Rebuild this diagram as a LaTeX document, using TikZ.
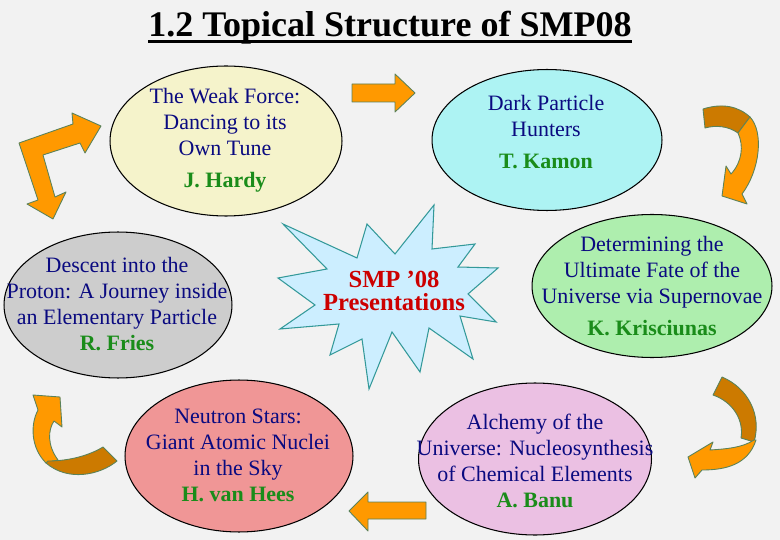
\documentclass[tikz,border=0pt]{standalone}
\usepackage{fontspec}
\setmainfont{Liberation Serif}
\usetikzlibrary{shapes.geometric,positioning}
\definecolor{Canvas}{HTML}{F2F2F2}
\definecolor{Navy}{HTML}{0A0A80}
\definecolor{Leaf}{HTML}{1A8C1A}
\definecolor{Flame}{HTML}{CC0000}
\definecolor{Amber}{HTML}{FF9900}
\definecolor{Rust}{HTML}{CC7A00}
\definecolor{Rim}{HTML}{5A825A}
\definecolor{Butter}{HTML}{F5F3CB}
\definecolor{Aqua}{HTML}{ADF3F3}
\definecolor{Mint}{HTML}{AEEEAE}
\definecolor{Lilac}{HTML}{EBC0E3}
\definecolor{Salmon}{HTML}{F09696}
\definecolor{Ash}{HTML}{CDCDCD}
\definecolor{Frost}{HTML}{CCEEFF}
\definecolor{Teal}{HTML}{339999}
\newcommand{\speaker}[1]{{\bfseries\color{Leaf}#1}}

\begin{document}
\begin{tikzpicture}[x=0.02cm,y=-0.02cm,talk/.style={ellipse,draw=black,line width=0.6pt,inner sep=0pt},blurb/.style={align=center,inner sep=0pt,text=Navy,font=\fontsize{12.5}{14.8}\selectfont},block/.style={fill=Amber,draw=Rim,line width=0.5pt,line join=round},shadeblock/.style={fill=Rust,draw=Rim,line width=0.5pt,line join=round}]
\fill[Canvas] (0,0) rectangle (780,540);
\useasboundingbox (0,0) rectangle (780,540);
\node[anchor=base,inner sep=0pt,font=\fontsize{20.5}{24}\selectfont\bfseries] (title) at (390,37){1.2 Topical Structure of SMP08};
\draw[line width=1.3pt] ([yshift=-2.6pt]title.base west) -- ([yshift=-2.6pt]title.base east);
% the six talks
\node[talk,fill=Butter,minimum width=4.64cm,minimum height=3.0cm] (weak) at (226,141){};
\node[talk,fill=Aqua,minimum width=4.6cm,minimum height=2.82cm] (hunters) at (547,140){};
\node[talk,fill=Mint,minimum width=4.8cm,minimum height=2.86cm] (fate) at (652,286){};
\node[talk,fill=Lilac,minimum width=4.66cm,minimum height=3.04cm] (alchemy) at (535,459){};
\node[talk,fill=Salmon,minimum width=4.56cm,minimum height=3.04cm] (neutron) at (239,456){};
\node[talk,fill=Ash,minimum width=4.56cm,minimum height=2.92cm] (descent) at (118,305){};
\node[blurb] (weaktxt) at (225,140){The Weak Force:\\Dancing to its\\Own Tune\\[3.4pt]\speaker{J. Hardy}};
\node[blurb] (hunterstxt) at (546,132){Dark Particle\\Hunters\\[3.4pt]\speaker{T. Kamon}};
\node[blurb] (fatetxt) at (652,286){Determining the\\Ultimate Fate of the\\Universe via Supernovae\\[3.4pt]\speaker{K. Krisciunas}};
\node[blurb] (alchemytxt) at (535,461){Alchemy of the\\Universe: Nucleosynthesis\\of Chemical Elements\\\speaker{A. Banu}};
\node[blurb] (neutrontxt) at (238,455){Neutron Stars:\\Giant Atomic Nuclei\\in the Sky\\\speaker{H. van Hees}};
\node[blurb] (descenttxt) at (117,304){Descent into the\\Proton: A Journey inside\\an Elementary Particle\\\speaker{R. Fries}};
% centre burst
\filldraw[fill=Frost,draw=Teal,line width=0.6pt] (434,205) -- (432,249) -- (475,244) -- (458,267) -- (498,268) -- (468,294) -- (496,322) -- (460,316) -- (473,359) -- (429,328) -- (420,372) -- (392,332) -- (369,389) -- (362,339) -- (330,355) -- (339,324) -- (280,329) -- (315,305) -- (278,278) -- (327,269) -- (283,224) -- (357,258) -- (367,224) -- (395,254) -- cycle;
\node[align=center,inner sep=0pt,text=Flame,font=\fontsize{14}{12.8}\selectfont\bfseries] (smp) at (394,291){SMP ’08\\Presentations};
% block arrows
\draw[block] (352,84) -- (395,84) -- (395,74) -- (415,93) -- (395,112) -- (395,102) -- (352,102) -- cycle;
\draw[block] (426,502) -- (368,502) -- (368,492) -- (349,511) -- (368,531) -- (368,519) -- (426,519) -- cycle;
\draw[block] (19,143) -- (73,124) -- (72,113) -- (101,126) -- (85,153) -- (80,143) -- (43,155) -- (55,197) -- (66,192) -- (53,219) -- (27,204) -- (38,200) -- cycle;
% curved arrows
\draw[shadeblock] (703,109) .. controls (722,103) and (738,106) .. (750,117) -- (738,133) .. controls (728,126) and (716,125) .. (705,128) -- cycle;
\draw[block] (750,117) .. controls (764,132) and (760,170) .. (742,194) -- (747,204) -- (722,196) -- (726,166) -- (731,174) .. controls (742,162) and (744,146) .. (738,133) -- cycle;
\draw[shadeblock] (722,377) .. controls (748,388) and (762,415) .. (754,442) -- (741,438) .. controls (744,420) and (733,402) .. (713,395) -- cycle;
\draw[block] (754,440) .. controls (742,448) and (725,449) .. (710,450) -- (713,442) -- (688,457) -- (695,478) -- (702,470) .. controls (725,470) and (748,465) .. (756,440) -- cycle;
\draw[block] (58,460) .. controls (47,445) and (48,430) .. (54,421) -- (62,427) -- (60,397) -- (33,395) -- (38,410) .. controls (30,425) and (31,448) .. (46,463) -- cycle;
\draw[shadeblock] (103,447) -- (117,461) .. controls (100,475) and (68,482) .. (46,463) -- (48,461) .. controls (70,461) and (90,455) .. (103,447) -- cycle;
\end{tikzpicture}
\end{document}
